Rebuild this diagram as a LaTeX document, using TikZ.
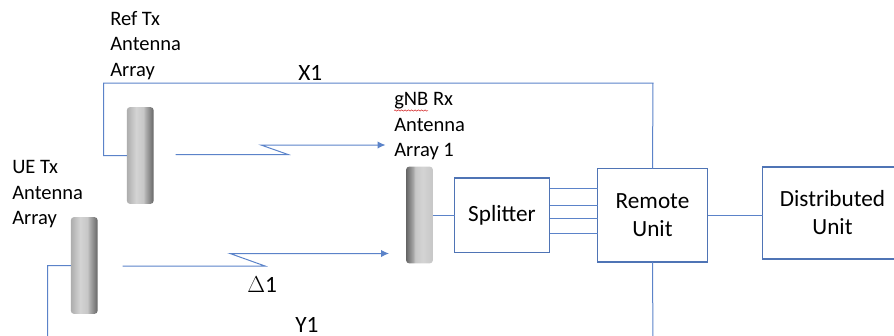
\documentclass[tikz,border=0pt]{standalone}
\usepackage{fontspec}
\setmainfont{Carlito}
\usetikzlibrary{arrows.meta}
\usetikzlibrary{decorations.pathmorphing}
\definecolor{linkblue}{HTML}{5B83C9}
\definecolor{boxblue}{HTML}{4F74B5}
\pgfdeclarehorizontalshading{antennaoutshade}{100bp}{
	color(0bp)=(black!32); color(25bp)=(black!32); color(42bp)=(black!17); color(56bp)=(black!22); color(60bp)=(black!32); color(75bp)=(black!60); color(100bp)=(black!60)}
\pgfdeclarehorizontalshading{antennainshade}{100bp}{
	color(0bp)=(black!60); color(25bp)=(black!60); color(38bp)=(black!35); color(42bp)=(black!22); color(56bp)=(black!17); color(75bp)=(black!22); color(100bp)=(black!22)}
\tikzset{
	unitbox/.style={draw=boxblue, line width=0.8pt, align=center, inner sep=0pt, outer sep=0pt, font=\fontsize{17.4}{21}\selectfont},
	antenna/.style={rounded corners=2.2pt, inner sep=0pt, outer sep=0pt, minimum width=20pt, minimum height=72.5pt},
	antennaout/.style={antenna, shading=antennaoutshade},
	antennain/.style={antenna, shading=antennainshade},
	link/.style={draw=linkblue, line width=0.75pt},
	radiolink/.style={link, -{Latex[length=6pt, width=5.5pt]}},
	arraytext/.style={align=left, anchor=north west, inner sep=0pt, font=\fontsize{15.4}{19}\selectfont},
	linktext/.style={anchor=base west, inner sep=0pt, font=\fontsize{17.5}{21}\selectfont}
}

\begin{document}
\begin{tikzpicture}[x=0.75pt, y=-0.75pt]
	\useasboundingbox (0,0) rectangle (894,336);
	% antenna arrays
	\node[antennaout] (reftx) at (140.25,155.5) {};
	\node[antennaout] (uetx) at (84.25,265.5) {};
	\node[antennain] (gnbrx) at (419.5,215) {};
	% units
	\node[unitbox, minimum width=71.25pt, minimum height=55.9pt] (splitter) at (502,215.25) {\raisebox{-1pt}{Splitter}};
	\node[unitbox, minimum width=82.5pt, minimum height=70.1pt] (remote) at (652.5,215.25) {\raisebox{-1pt}{Remote}\\[0.5pt]Unit};
	\node[unitbox, minimum width=105pt, minimum height=69pt] (distributed) at (832.5,213) {Distributed\\Unit};
	% array labels
	\node[arraytext] (reflabel) at (110,11) {Ref Tx\\Antenna\\Array};
	\node[arraytext] (uelabel) at (12,160.5) {UE Tx\\Antenna\\Array};
	\node[arraytext] (gnblabel) at (394,92.5) {gNB Rx\\Antenna\\Array 1};
	\coordinate (squigglea) at (394,110.5);
	\coordinate (squiggleb) at (428,110.5);
	\draw[red!80!black, line width=0.3pt, decorate, decoration={snake, amplitude=0.5pt, segment length=2.5pt}] (squigglea) -- (squiggleb);
	% feeder lines
	\draw[link] (reftx.west) -| (103.5,83) -- (653,83) -- (remote.north);
	\draw[link] (uetx.west) -| (47.5,345) -- (653,345) -- (remote.south);
	\node[linktext] (xlabel) at (298,80) {X1};
	\node[linktext] (ylabel) at (295,332) {Y1};
	% radio links
	\coordinate (refstart) at (175.5,154.5);
	\coordinate (refend) at (385.5,145);
	\coordinate (uestart) at (122.5,266);
	\coordinate (ueend) at (389,253.5);
	\draw[radiolink] (refstart) -- (288,154.5) -- (261,145) -- (refend);
	\draw[radiolink] (uestart) -- (265,266) -- (230,253.5) -- (ueend);
	\node[linktext] (deltalabel) at (247,292) {$\Delta$1};
	% connections
	\draw[link] (gnbrx.east |- splitter.west) -- (splitter.west);
	\foreach \ypos in {188.7,205,218.3,233.3}
		\draw[link] (splitter.east |- 0,\ypos) -- (remote.west |- 0,\ypos);
	\draw[link] (remote.east) -- (remote.east -| distributed.west);
\end{tikzpicture}
\end{document}
